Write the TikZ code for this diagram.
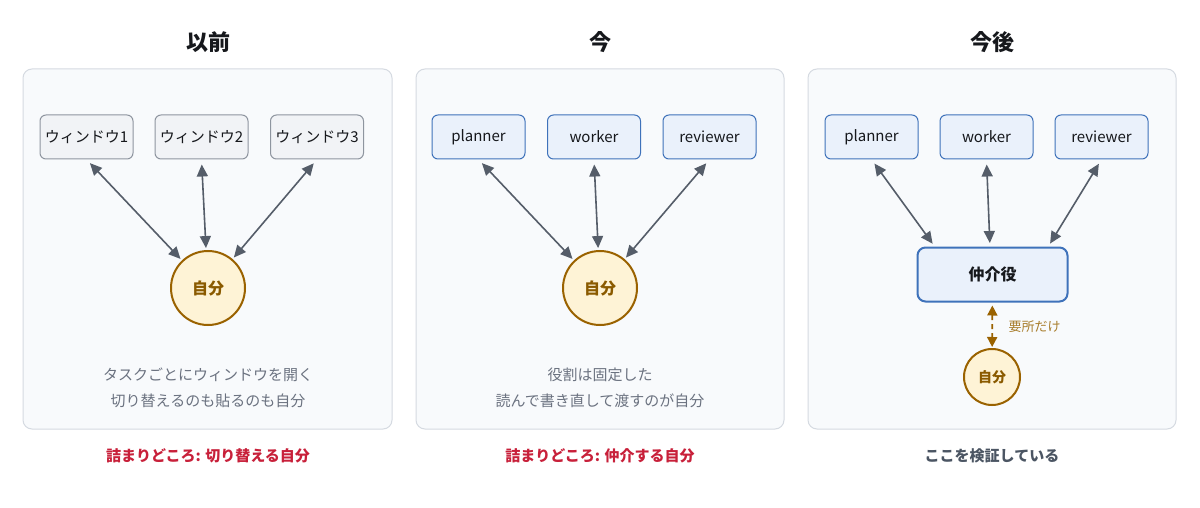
\documentclass[tikz,border=0pt]{standalone}
\usepackage{fontspec}
\setmainfont{Noto Sans CJK JP}
\usetikzlibrary{arrows.meta}
\definecolor{panelfill}{HTML}{F8FAFC}
\definecolor{panelline}{HTML}{D5DAE1}
\definecolor{winfill}{HTML}{F1F3F6}
\definecolor{winline}{HTML}{8E959F}
\definecolor{agfill}{HTML}{EAF1FB}
\definecolor{agline}{HTML}{3F72BA}
\definecolor{arrowc}{HTML}{555D69}
\definecolor{mefill}{HTML}{FEF3D6}
\definecolor{meline}{HTML}{9A6200}
\definecolor{metext}{HTML}{8A5A00}
\definecolor{lbl}{HTML}{A87D2C}
\definecolor{note}{HTML}{6B7280}
\definecolor{redc}{HTML}{C8203A}
\definecolor{darkg}{HTML}{4B5563}
\definecolor{titlec}{HTML}{16181C}
\tikzset{
  panel/.style={draw=panelline, fill=panelfill, line width=1pt, rounded corners=9pt},
  title/.style={font=\fontsize{22}{26}\selectfont\bfseries, text=titlec},
  winbox/.style={draw=winline, fill=winfill, line width=1pt, rounded corners=6pt, minimum width=93pt, minimum height=44pt, inner sep=0pt, font=\fontsize{15}{17}\selectfont, text=titlec},
  agbox/.style={draw=agline, fill=agfill, line width=1pt, rounded corners=6pt, minimum width=93pt, minimum height=44pt, inner sep=0pt, font=\fontsize{15}{17}\selectfont, text=titlec},
  medbox/.style={draw=agline, fill=agfill, line width=2pt, rounded corners=8pt, minimum width=150pt, minimum height=54pt, inner sep=0pt, font=\fontsize{16}{18}\selectfont\bfseries, text=titlec},
  me/.style={circle, draw=meline, fill=mefill, line width=2pt, minimum size=74pt, inner sep=0pt, font=\fontsize{16}{18}\selectfont\bfseries, text=metext},
  mesmall/.style={circle, draw=meline, fill=mefill, line width=2pt, minimum size=56pt, inner sep=0pt, font=\fontsize{14}{16}\selectfont\bfseries, text=metext},
  link/.style={draw=arrowc, line width=1.6pt, {Triangle[length=12pt,width=11pt]}-{Triangle[length=12pt,width=11pt]}, shorten <=5pt, shorten >=2pt},
  dlink/.style={draw=meline, line width=1.8pt, dash pattern=on 5pt off 4pt, {Triangle[length=10pt,width=10pt]}-{Triangle[length=10pt,width=10pt]}, shorten <=3pt, shorten >=1pt},
  notetext/.style={font=\fontsize{15}{17}\selectfont, text=note},
  caption/.style={font=\fontsize{15}{17}\selectfont\bfseries},
}
\begin{document}
\begin{tikzpicture}[x=1pt,y=-1pt]
\useasboundingbox (0,0) rectangle (1200,508);
\fill[white] (0,0) rectangle (1200,508);
% panels
\draw[panel] (23,69) rectangle (392,429);
\draw[panel] (416,69) rectangle (784,429);
\draw[panel] (808,69) rectangle (1176,429);
% titles
\node[title] (t1) at (208,42) {以前};
\node[title] (t2) at (600,42) {今};
\node[title] (t3) at (992,42) {今後};
% panel 1
\node[winbox] (w1) at (86.5,137) {ウィンドウ1};
\node[winbox] (w2) at (201.5,137) {ウィンドウ2};
\node[winbox] (w3) at (317,137) {ウィンドウ3};
\node[me] (me1) at (208,288) {自分};
\draw[link] (w1.south) -- (me1);
\draw[link] (w2.south) -- (me1);
\draw[link] (w3.south) -- (me1);
\node[notetext] (n1a) at (208,375) {タスクごとにウィンドウを開く};
\node[notetext] (n1b) at (208,401) {切り替えるのも貼るのも自分};
% panel 2
\node[agbox] (p2) at (478.5,137) {planner};
\node[agbox] (k2) at (594,137) {worker};
\node[agbox] (r2) at (709.5,137) {reviewer};
\node[me] (me2) at (600,288) {自分};
\draw[link] (p2.south) -- (me2);
\draw[link] (k2.south) -- (me2);
\draw[link] (r2.south) -- (me2);
\node[notetext] (n2a) at (600,375) {役割は固定した};
\node[notetext] (n2b) at (600,401) {読んで書き直して渡すのが自分};
% panel 3
\node[agbox] (p3) at (871.5,137) {planner};
\node[agbox] (k3) at (986.5,137) {worker};
\node[agbox] (r3) at (1101.5,137) {reviewer};
\node[medbox] (med) at (992.5,274.5) {仲介役};
\coordinate (mp) at (935,247);
\coordinate (mk) at (990,247);
\coordinate (mr) at (1048,247);
\draw[link, shorten >=4pt] (p3.south) -- (mp);
\draw[link, shorten >=4pt] (k3.south) -- (mk);
\draw[link, shorten >=4pt] (r3.south) -- (mr);
\node[mesmall] (me3) at (992,377) {自分};
\draw[dlink] (med) -- (me3);
\node[font=\fontsize{13}{15}\selectfont, text=lbl, anchor=west] (lab) at (1005,327) {要所だけ};
% captions
\node[caption, text=redc] (c1) at (208,456) {詰まりどころ: 切り替える自分};
\node[caption, text=redc] (c2) at (600,456) {詰まりどころ: 仲介する自分};
\node[caption, text=darkg] (c3) at (992,456) {ここを検証している};
\end{tikzpicture}
\end{document}
